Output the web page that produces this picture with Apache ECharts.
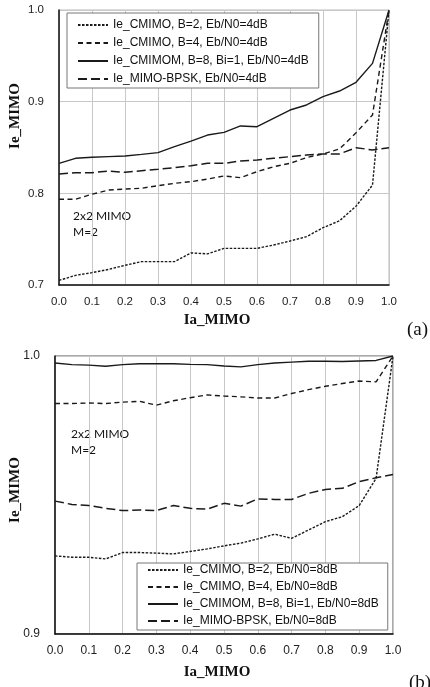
<!DOCTYPE html>
<html>
<head>
<meta charset="utf-8">
<script src="https://cdn.jsdelivr.net/npm/echarts@6/dist/echarts.min.js"></script>
<style>
	html, body { margin: 0; padding: 0; background: #fff; }
	#chart { width: 430px; height: 687px; }
</style>
</head>
<body>
<div id="chart"></div>
<script>
// Ia_MIMO sample points (x)
var iaValues = [0.0, 0.05, 0.1, 0.15, 0.2, 0.25, 0.3, 0.35, 0.4, 0.45, 0.5, 0.55, 0.6, 0.65, 0.7, 0.75, 0.8, 0.85, 0.9, 0.95, 1.0];
var xTickLabels = ['0.0', '0.1', '0.2', '0.3', '0.4', '0.5', '0.6', '0.7', '0.8', '0.9', '1.0'];

// (a) Eb/N0 = 4dB
var namesA = ['Ie_CMIMO, B=2, Eb/N0=4dB', 'Ie_CMIMO, B=4, Eb/N0=4dB', 'Ie_CMIMOM, B=8, Bi=1, Eb/N0=4dB', 'Ie_MIMO-BPSK, Eb/N0=4dB'];
var cmimoB2A = [0.705, 0.7105, 0.7135, 0.717, 0.7215, 0.7255, 0.7255, 0.7255, 0.735, 0.734, 0.740, 0.740, 0.740, 0.7436, 0.748, 0.7527, 0.7625, 0.770, 0.786, 0.809, 1.0];
var cmimoB4A = [0.7935, 0.7935, 0.799, 0.8036, 0.8047, 0.8055, 0.8084, 0.8109, 0.8127, 0.8156, 0.8189, 0.8171, 0.8236, 0.829, 0.8327, 0.839, 0.843, 0.8484, 0.866, 0.8855, 1.0];
var cmimomB8A = [0.8327, 0.8382, 0.8393, 0.840, 0.8407, 0.8425, 0.8444, 0.8509, 0.857, 0.8636, 0.8665, 0.8735, 0.8727, 0.8818, 0.8909, 0.8964, 0.9055, 0.9116, 0.9211, 0.9418, 1.0];
var bpskA = [0.8211, 0.8225, 0.8225, 0.8244, 0.8229, 0.8247, 0.8262, 0.828, 0.8302, 0.8327, 0.8327, 0.8353, 0.8364, 0.8382, 0.840, 0.8418, 0.843, 0.843, 0.8498, 0.8473, 0.8498];

// (b) Eb/N0 = 8dB
var namesB = ['Ie_CMIMO, B=2, Eb/N0=8dB', 'Ie_CMIMO, B=4, Eb/N0=8dB', 'Ie_CMIMOM, B=8, Bi=1, Eb/N0=8dB', 'Ie_MIMO-BPSK, Eb/N0=8dB'];
var cmimoB2B = [0.9281, 0.9276, 0.9276, 0.927, 0.9293, 0.9293, 0.9291, 0.9288, 0.9297, 0.9306, 0.9317, 0.9327, 0.9342, 0.9359, 0.9344, 0.9374, 0.9404, 0.9422, 0.9462, 0.956, 1.0];
var cmimoB4B = [0.9829, 0.9829, 0.9831, 0.9829, 0.9834, 0.9837, 0.9823, 0.9839, 0.985, 0.986, 0.9856, 0.9853, 0.9849, 0.9849, 0.9865, 0.9879, 0.9891, 0.9901, 0.991, 0.9907, 1.0];
var cmimomB8B = [0.9975, 0.9969, 0.9967, 0.9963, 0.9969, 0.9972, 0.9972, 0.9972, 0.997, 0.9969, 0.9964, 0.9961, 0.9969, 0.9975, 0.9978, 0.9981, 0.9981, 0.998, 0.9982, 0.9984, 1.0];
var bpskB = [0.9478, 0.9466, 0.9462, 0.9452, 0.9444, 0.9446, 0.9444, 0.9462, 0.9452, 0.9449, 0.947, 0.946, 0.9486, 0.9484, 0.9484, 0.9506, 0.952, 0.9524, 0.9548, 0.9562, 0.9574];

// line styles, same order as the names
var lineTypes = [[2.5, 1.5], [5, 3.5], 'solid', [9, 4]];
var lineWidths = [1.4, 1.4, 1.4, 1.5];

function pairs(ys) {
	var out = [];
	for (var i = 0; i < iaValues.length; i++) {
		out.push([iaValues[i], ys[i]]);
	}
	return out;
}

function makeSeries(names, lists, idx) {
	var res = [];
	for (var i = 0; i < names.length; i++) {
		res.push({
			name: names[i], type: 'line', xAxisIndex: idx, yAxisIndex: idx,
			symbol: 'none', silent: true, animation: false,
			data: pairs(lists[i]),
			itemStyle: {color: '#1a1a1a'},
			lineStyle: {color: '#1a1a1a', width: lineWidths[i], type: lineTypes[i]}
		});
	}
	return res;
}

function xAxisOpt(idx, fontSize) {
	return {
		type: 'value', gridIndex: idx, min: 0, max: 1, interval: 0.1,
		axisLine: {onZero: false, lineStyle: {color: '#111', width: 1.5}},
		axisTick: {show: false},
		axisLabel: {margin: 11, fontFamily: 'Liberation Sans', fontSize: fontSize, color: '#222',
			formatter: function(v) { return xTickLabels[Math.round(v * 10)]; }},
		splitLine: {show: true, lineStyle: {color: '#c8c8c8', width: 1}}
	};
}

function yAxisOpt(idx, min, max, fontSize) {
	return {
		type: 'value', gridIndex: idx, min: min, max: max, interval: 0.1,
		axisLine: {show: true, lineStyle: {color: '#111', width: 1.5}},
		axisTick: {show: false},
		axisLabel: {margin: 15, fontFamily: 'Liberation Sans', fontSize: fontSize, color: '#222',
			formatter: function(v) { return v.toFixed(1); }},
		splitLine: {show: true, lineStyle: {color: '#c8c8c8', width: 1}}
	};
}

function legendOpt(names, left, top, padding, gap) {
	return {
		orient: 'vertical', left: left, top: top, padding: padding, itemGap: gap,
		itemWidth: 30, itemHeight: 12, selectedMode: false,
		itemStyle: {opacity: 0},
		backgroundColor: '#fff', borderColor: '#777', borderWidth: 1,
		textStyle: {fontFamily: 'Liberation Sans', fontSize: 12, color: '#111'},
		data: names
	};
}

var titleFont = 'bold 15px "Liberation Serif"';
var noteFont = '12px Lato';

var chart = echarts.init(document.getElementById('chart'));
chart.setOption({
	backgroundColor: '#fff',
	animation: false,
	grid: [
		{left: 59, right: 41, top: 10, height: 275, show: true, borderColor: '#bbb', borderWidth: 1},
		{left: 55, right: 37, top: 356, height: 278, show: true, borderColor: '#555', borderWidth: 1}
	],
	xAxis: [xAxisOpt(0, 11.5), xAxisOpt(1, 12)],
	yAxis: [yAxisOpt(0, 0.7, 1.0, 11.5), yAxisOpt(1, 0.9, 1.0, 12)],
	legend: [
		legendOpt(namesA, 67, 13, [6, 10, 3, 10], 6),
		legendOpt(namesB, 137, 563, [1, 9, 3, 10], 5)
	],
	series: makeSeries(namesA, [cmimoB2A, cmimoB4A, cmimomB8A, bpskA], 0)
		.concat(makeSeries(namesB, [cmimoB2B, cmimoB4B, cmimomB8B, bpskB], 1)),
	graphic: [
		// axis titles
		{type: 'text', x: 217, y: 320, style: {text: 'Ia_MIMO', font: titleFont, fill: '#111', align: 'center', verticalAlign: 'middle'}},
		{type: 'text', x: 15, y: 116, rotation: Math.PI / 2, style: {text: 'Ie_MIMO', font: titleFont, fill: '#111', align: 'center', verticalAlign: 'middle'}},
		{type: 'text', x: 217, y: 672, style: {text: 'Ia_MIMO', font: titleFont, fill: '#111', align: 'center', verticalAlign: 'middle'}},
		{type: 'text', x: 15, y: 490, rotation: Math.PI / 2, style: {text: 'Ie_MIMO', font: titleFont, fill: '#111', align: 'center', verticalAlign: 'middle'}},
		// panel tags
		{type: 'text', x: 407, y: 330, style: {text: '(a)', font: '19px "Liberation Serif"', fill: '#111', verticalAlign: 'middle'}},
		{type: 'text', x: 409, y: 683, style: {text: '(b)', font: '19px "Liberation Serif"', fill: '#111', verticalAlign: 'middle'}},
		// notes
		{type: 'text', x: 73, y: 224, style: {text: '2x2 MIMO\nM=2', font: noteFont, lineHeight: 16, fill: '#111', verticalAlign: 'middle'}},
		{type: 'text', x: 71, y: 442, style: {text: '2x2 MIMO\nM=2', font: noteFont, lineHeight: 16, fill: '#111', verticalAlign: 'middle'}}
	]
});
</script>
</body>
</html>
